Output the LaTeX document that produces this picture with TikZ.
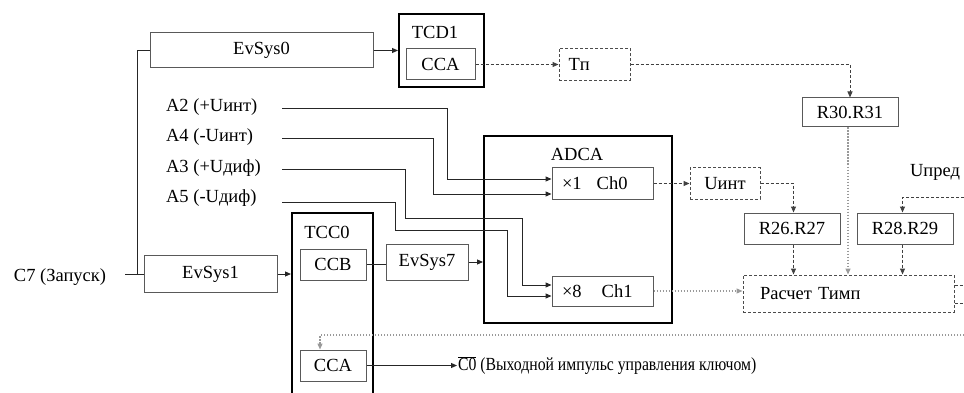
\documentclass[tikz,border=0pt]{standalone}
\usepackage{fontspec}
\usepackage{graphicx}
\setmainfont{Liberation Serif}
\usetikzlibrary{arrows.meta}

\tikzset{every picture/.style={line width=0.75pt}}
\tikzset{
  blk/.style={draw=black!65, line width=1pt, inner sep=0pt},
  unitbox/.style={draw=black, line width=2pt, inner sep=0pt},
  dashbox/.style={draw=black!70, line width=1pt, dash pattern=on 3pt off 2pt, inner sep=0pt},
  lbl/.style={inner sep=0.75pt},
  sig/.style={draw=black!85, line width=1pt},
  dsig/.style={draw=black!75, line width=1pt, dash pattern=on 3pt off 2pt},
  dotsig/.style={draw=black!40, line width=1.3pt, dash pattern=on 1.5pt off 1.5pt},
  tip/.style={-{Triangle[length=6pt,width=5pt]}},
}

\begin{document}
\begin{tikzpicture}[x=1pt,y=1pt,yscale=-1,font=\fontsize{18.5}{20}\selectfont]
\clip (0,0) rectangle (964,393);

%Blocks: timers
\node [unitbox, minimum width=85pt, minimum height=73pt] (tcd1) at (441.5,50.5) {};
\node [lbl] (tcd1name) at (435,32) {TCD1};
\node [blk, minimum width=69pt, minimum height=31pt] (tcd1cca) at (440.5,64.5) {CCA};
\node [unitbox, minimum width=81pt, minimum height=190pt] (tcc0) at (332.5,308) {};
\node [lbl] (tcc0name) at (327,232) {TCC0};
\node [blk, minimum width=66pt, minimum height=31pt] (ccb) at (333,264.5) {CCB};
\node [blk, minimum width=66pt, minimum height=31pt] (cca0) at (333,365.5) {CCA};

%Blocks: event system
\node [blk, minimum width=223pt, minimum height=35pt] (evsys0) at (261.5,50.5) {EvSys0};
\node [blk, minimum width=133pt, minimum height=37pt] (evsys1) at (210.5,274) {EvSys1};
\node [blk, minimum width=82pt, minimum height=36pt] (evsys7) at (427,262) {EvSys7};

%Blocks: ADC
\node [unitbox, minimum width=188pt, minimum height=187pt] (adca) at (578,229.5) {};
\node [lbl] (adcaname) at (577,154) {ADCA};
\node [blk, minimum width=101pt, minimum height=31pt, text width=81pt, align=left] (ch0) at (602.5,183.5) {×1\hspace{15pt}Ch0};
\node [blk, minimum width=101pt, minimum height=30pt, text width=81pt, align=left] (ch1) at (602.5,291) {×8\hspace{20pt}Ch1};

%Blocks: calculation
\node [dashbox, minimum width=71pt, minimum height=32pt, text width=52pt, align=left] (tp) at (594.5,64.5) {Tп};
\node [dashbox, minimum width=70pt, minimum height=31pt] (uint) at (725,183.5) {Uинт};
\node [blk, minimum width=96pt, minimum height=29pt] (r3031) at (850,112.5) {R30.R31};
\node [blk, minimum width=96pt, minimum height=31pt] (r2627) at (792,228.5) {R26.R27};
\node [blk, minimum width=96pt, minimum height=31pt] (r2829) at (905,228.5) {R28.R29};
\node [dashbox, minimum width=211pt, minimum height=37pt, text width=177pt, align=left] (rasch) at (848.5,293.5) {Расчет Тимп};

% Text Node
\node [lbl] (c7) at (60,277) {C7 (Запуск)};
\node [lbl, anchor=west] (a2) at (165,107) {A2 (+Uинт)};
\node [lbl, anchor=west] (a4) at (165,137) {A4 (-Uинт)};
\node [lbl, anchor=west] (a3) at (165,168) {A3 (+Uдиф)};
\node [lbl, anchor=west] (a5) at (165,198) {A5 (-Uдиф)};
\node [lbl] (upred) at (935,172) {Uпред};
\node [lbl, anchor=west] (out) at (457,365.5) {\scalebox{0.85}[1]{$\overline{\hbox{C0}}$ (Выходной импульс управления ключом)}};

%Corner points
\coordinate (c7in) at (125,274);
\coordinate (split) at (137,274);
\coordinate (inx) at (282,0);
\coordinate (k2) at (447,179);
\coordinate (k4) at (433,194);
\coordinate (j3) at (405,218);
\coordinate (k3) at (522,285);
\coordinate (j5) at (395,230);
\coordinate (k5) at (507,296);
\coordinate (upin) at (964,197);
\coordinate (edgea) at (964,285);
\coordinate (edgeb) at (964,303);
\coordinate (fbk) at (964,335);

%Straight Lines
\draw [sig] (c7in) -- (evsys1.west);
\draw [sig] (split) |- (evsys0.west);
\draw [sig, tip] (evsys0.east) -- (tcd1.west);
\draw [sig, tip] (evsys1.east) -- (evsys1.east -| tcc0.west);
\draw [sig] (ccb.east) -- (evsys7.west |- ccb.east);
\draw [sig, tip] (evsys7.east) -- (evsys7.east -| adca.west);
\draw [sig, tip] (cca0.east) -- (out.west);

%ADC inputs
\draw [sig, tip] ([yshift=2pt]a2.east -| inx) -| (k2) -- (k2 -| ch0.west);
\draw [sig, tip] ([yshift=2pt]a4.east -| inx) -| (k4) -- (k4 -| ch0.west);
\draw [sig, tip] ([yshift=2pt]a3.east -| inx) -| (j3) -| (k3) -- (k3 -| ch1.west);
\draw [sig, tip] ([yshift=4pt]a5.east -| inx) -| (j5) -| (k5) -- (k5 -| ch1.west);

%Dashed Lines
\draw [dsig, tip] (tcd1cca.east) -- (tcd1cca.east -| tp.west);
\draw [dsig, tip] (tp.east) -| (r3031.north);
\draw [dsig, tip] (ch0.east) -- (ch0.east -| uint.west);
\draw [dsig, tip] (uint.east) -| ([xshift=1.5pt]r2627.north);
\draw [dsig, tip] (upin) -| ([xshift=-2.5pt]r2829.north);
\draw [dsig, tip] ([xshift=1.5pt]r2627.south) -- ([xshift=1.5pt]r2627.south |- rasch.north);
\draw [dsig, tip] ([xshift=-2.5pt]r2829.south) -- ([xshift=-2.5pt]r2829.south |- rasch.north);
\draw [dsig] (rasch.east |- edgea) -- (edgea);
\draw [dsig] (rasch.east |- edgeb) -- (edgeb);

%Dotted Lines
\draw [dotsig, tip] (ch1.east) -- (ch1.east -| rasch.west);
\draw [dotsig, tip] ([xshift=-2pt]r3031.south) -- ([xshift=-2pt]r3031.south |- rasch.north);
\draw [dotsig, tip] (fbk) -| ([xshift=-13pt]cca0.north);

\end{tikzpicture}
\end{document}
